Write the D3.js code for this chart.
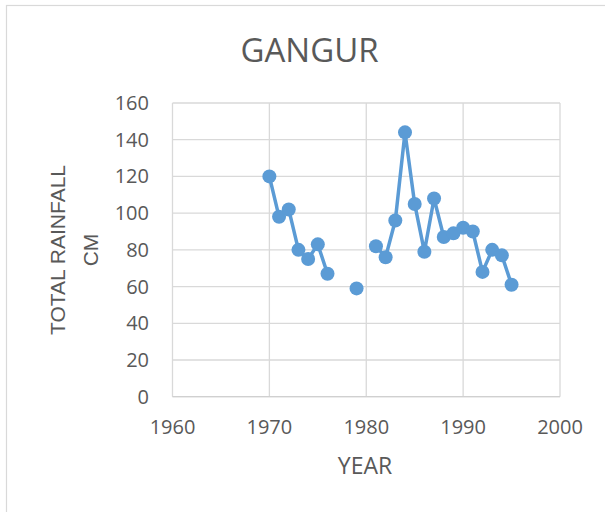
<!DOCTYPE html>
<html lang="en">
<head>
<meta charset="UTF-8">
<title>GANGUR</title>
<script src="https://cdn.jsdelivr.net/npm/d3@7/dist/d3.min.js"></script>
<style>
  body { margin: 0; background: #fff; }
</style>
</head>
<body>
<script>
  // data (null = no reading that year)
  const years = [1970, 1971, 1972, 1973, 1974, 1975, 1976, 1977, 1978, 1979, 1980,
                 1981, 1982, 1983, 1984, 1985, 1986, 1987, 1988, 1989, 1990,
                 1991, 1992, 1993, 1994, 1995];
  const rainfall = [120, 98, 102, 80, 75, 83, 67, null, null, 59, null,
                    82, 76, 96, 144, 105, 79, 108, 87, 89, 92,
                    90, 68, 80, 77, 61];
  const xTicks = [1960, 1970, 1980, 1990, 2000];
  const yTicks = [0, 20, 40, 60, 80, 100, 120, 140, 160];

  const data = years.map((y, i) => ({ year: y, value: rainfall[i] }));

  const width = 605, height = 512;
  const margin = { left: 172.5, right: 45, top: 103, bottom: 115.3 };

  const svg = d3.select("body").append("svg")
      .attr("width", width)
      .attr("height", height);

  // chart border (only top/left are in view)
  svg.append("rect")
      .attr("x", 6.5).attr("y", 5.5)
      .attr("width", 620).attr("height", 530)
      .attr("fill", "none")
      .attr("stroke", "#d9d9d9")
      .attr("stroke-width", 1.2);

  const x = d3.scaleLinear().domain([1960, 2000]).range([margin.left, width - margin.right]);
  const y = d3.scaleLinear().domain([0, 160]).range([height - margin.bottom, margin.top]);

  // gridlines
  svg.append("g").selectAll("line")
    .data(yTicks).enter().append("line")
      .attr("x1", x(1960)).attr("x2", x(2000))
      .attr("y1", d => y(d)).attr("y2", d => y(d))
      .attr("stroke", "#d9d9d9").attr("stroke-width", 1.3);

  svg.append("g").selectAll("line")
    .data(xTicks).enter().append("line")
      .attr("x1", d => x(d)).attr("x2", d => x(d))
      .attr("y1", y(0)).attr("y2", y(160))
      .attr("stroke", "#d9d9d9").attr("stroke-width", 1.3);

  // axis baseline
  svg.append("line")
      .attr("x1", x(1960)).attr("x2", x(2000))
      .attr("y1", y(0)).attr("y2", y(0))
      .attr("stroke", "#d0d0d0").attr("stroke-width", 1.3);

  // tick labels
  svg.append("g").selectAll("text")
    .data(yTicks).enter().append("text")
      .attr("x", 149)
      .attr("y", d => y(d))
      .attr("dy", "0.35em")
      .attr("text-anchor", "end")
      .style("font-family", "'Open Sans', sans-serif")
      .style("font-size", "20px")
      .attr("fill", "#595959")
      .text(d => d);

  svg.append("g").selectAll("text")
    .data(xTicks).enter().append("text")
      .attr("x", d => x(d))
      .attr("y", y(0) + 37)
      .attr("text-anchor", "middle")
      .style("font-family", "'Open Sans', sans-serif")
      .style("font-size", "20px")
      .attr("fill", "#595959")
      .text(d => d);

  // line + markers
  const line = d3.line()
      .defined(d => d.value !== null)
      .x(d => x(d.year))
      .y(d => y(d.value));

  svg.append("path")
      .datum(data)
      .attr("d", line)
      .attr("fill", "none")
      .attr("stroke", "#5b9bd5")
      .attr("stroke-width", 3.5)
      .attr("stroke-linejoin", "round");

  svg.append("g").selectAll("circle")
    .data(data.filter(d => d.value !== null)).enter().append("circle")
      .attr("cx", d => x(d.year))
      .attr("cy", d => y(d.value))
      .attr("r", 7)
      .attr("fill", "#5b9bd5");

  // title
  svg.append("text")
      .attr("x", 309.5).attr("y", 61.5)
      .attr("text-anchor", "middle")
      .style("font-family", "'Open Sans', sans-serif")
      .style("font-size", "33px")
      .attr("fill", "#595959")
      .text("GANGUR");

  // axis titles
  svg.append("text")
      .attr("x", 365).attr("y", 474)
      .attr("text-anchor", "middle")
      .style("font-family", "'Open Sans', sans-serif")
      .style("font-size", "23px")
      .attr("fill", "#595959")
      .text("YEAR");

  const yTitle = svg.append("text")
      .attr("transform", "translate(0,250) rotate(-90)")
      .attr("text-anchor", "middle")
      .style("font-family", "'Liberation Sans', Arial, sans-serif")
      .style("font-size", "21px")
      .attr("fill", "#595959");
  yTitle.append("tspan").attr("x", 0).attr("y", 65).text("TOTAL RAINFALL");
  yTitle.append("tspan").attr("x", 0).attr("y", 98).text("CM");
</script>
</body>
</html>
